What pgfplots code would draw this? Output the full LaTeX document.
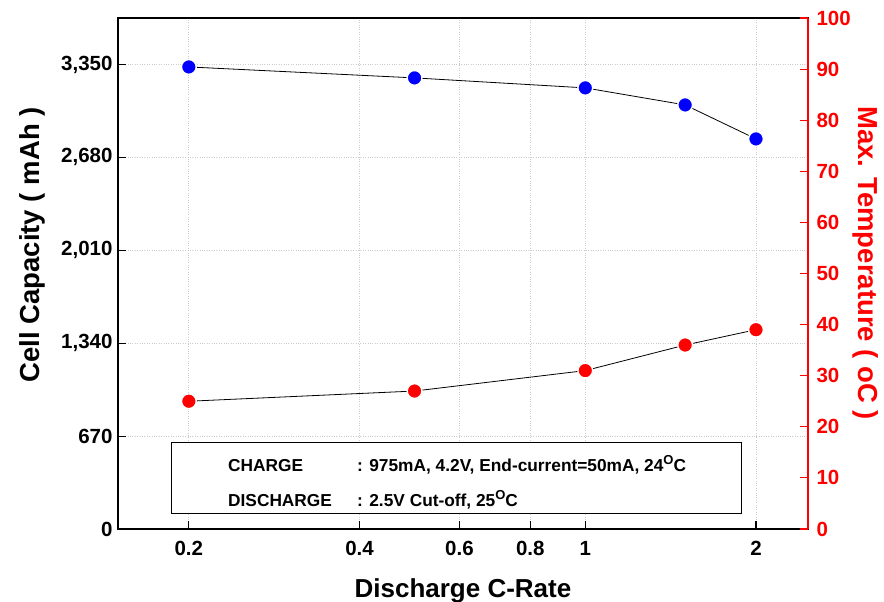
\documentclass[border=0pt]{standalone}
\usepackage{fontspec}
\setmainfont{Liberation Sans}
\usepackage{pgfplots}
\pgfplotsset{compat=1.18}
\begin{document}
\begin{tikzpicture}
\pgfplotsset{
  every axis/.append style={
    width=690pt, height=511pt, scale only axis,
    xmode=log, xmin=0.15, xmax=2.47,
    /pgf/number format/assume math mode=true,
    tick align=inside, major tick length=8pt,
    xminorticks=false, yminorticks=false,
    every tick/.style={line width=1.1pt},
    ticklabel style={font=\bfseries\fontsize{20.5}{21}\selectfont},
    label style={font=\bfseries\fontsize{27.5}{29}\selectfont},
    axis line style={line width=1.5pt},
  }
}
\begin{axis}[
  name=ax,
  ymin=0, ymax=3685,
  ytick={0,670,1340,2010,2680,3350},
  yticklabels={0,670,{1,340},{2,010},{2,680},{3,350}},
  yticklabel style={xshift=-2pt},
  xtick={0.2,0.4,0.6,0.8,1,2},
  xticklabels={0.2,0.4,0.6,0.8,1,2},
  xticklabel style={anchor=base, yshift=-27pt},
  xtick pos=bottom, ytick pos=left,
  grid=major, grid style={dotted, black!20, line width=0.7pt},
  xlabel={Discharge C-Rate},
  ylabel={Cell Capacity ( mAh )},
  xlabel style={at={(rel axis cs:0.5,-0.1331)}, anchor=base, font=\bfseries\fontsize{26}{28}\selectfont},
  ylabel style={at={(rel axis cs:-0.1,0.556)}, anchor=south},
]
\addplot[black, line width=0.8pt, mark=*, mark size=7.4pt,
  mark options={fill=blue, draw=white, line width=1.4pt}]
  coordinates {(0.2,3332) (0.5,3253) (1,3181) (1.5,3058) (2,2813)};
\end{axis}
\begin{axis}[
  ymin=0, ymax=100, ytick={0,10,...,100},
  axis y line*=right, axis x line=none,
  y axis line style={red, line width=1.5pt},
  ytick style={red},
  yticklabel style={red, xshift=5pt},
  ylabel={Max. Temperature ( oC )},
  ylabel style={red, at={(rel axis cs:1.0594,0.5205)}, anchor=south, rotate=180},
]
\addplot[black, line width=0.8pt, mark=*, mark size=7.4pt,
  mark options={fill=red, draw=white, line width=1.4pt}]
  coordinates {(0.2,25) (0.5,27) (1,31) (1.5,36) (2,39)};
\draw[fill=white, line width=1pt] (rel axis cs:0.0778,0.0294) rectangle (rel axis cs:0.9038,0.1689);
\node[anchor=base west, inner sep=0pt, font=\bfseries\fontsize{17.3}{19}\selectfont] at (rel axis cs:0.1594,0.1135) {CHARGE};
\node[anchor=base west, inner sep=0pt, font=\bfseries\fontsize{17.3}{19}\selectfont] at (rel axis cs:0.3464,0.1135) {: 975mA, 4.2V, End-current=50mA, 24\raisebox{0.75ex}{\fontsize{13}{13}\selectfont O}C};
\node[anchor=base west, inner sep=0pt, font=\bfseries\fontsize{17.3}{19}\selectfont] at (rel axis cs:0.1594,0.045) {DISCHARGE};
\node[anchor=base west, inner sep=0pt, font=\bfseries\fontsize{17.3}{19}\selectfont] at (rel axis cs:0.3464,0.045) {: 2.5V Cut-off, 25\raisebox{0.75ex}{\fontsize{13}{13}\selectfont O}C};
\end{axis}
\pgfresetboundingbox
\path[use as bounding box] ([shift={(-118pt,-73pt)}]ax.south west) rectangle ([shift={(76pt,18pt)}]ax.north east);
\end{tikzpicture}
\end{document}
